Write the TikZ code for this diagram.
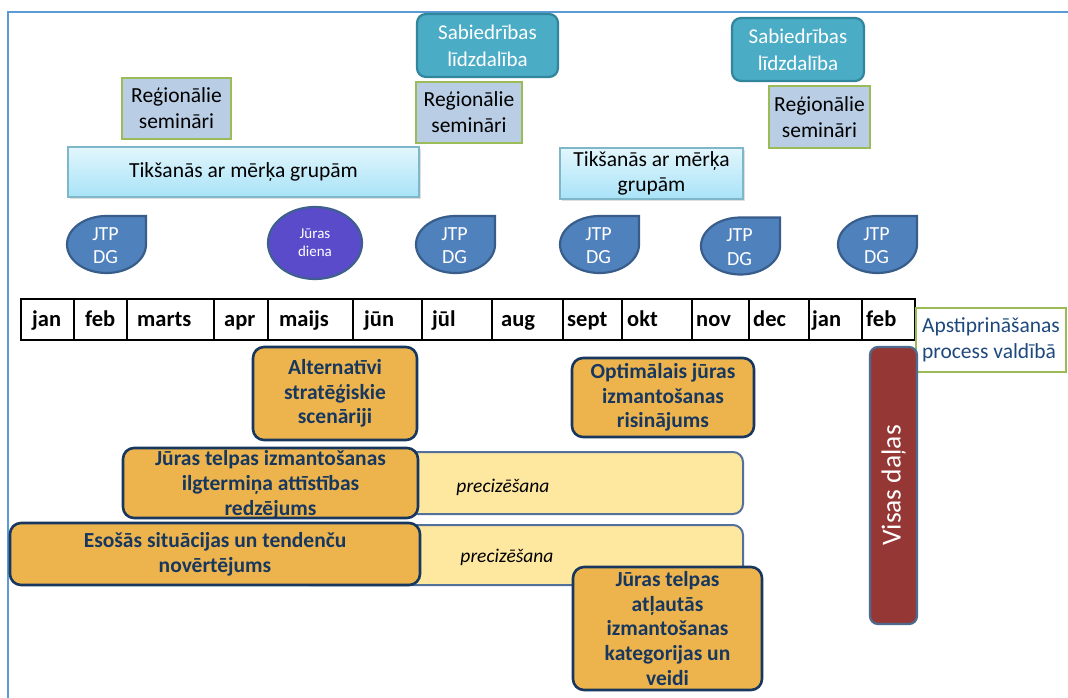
\documentclass[tikz,border=0pt]{standalone}
\usepackage{fontspec}
\setmainfont{Carlito}
\usetikzlibrary{shadows,shapes.geometric}

\definecolor{frameB}{HTML}{5B9BD5}
\definecolor{tealF}{HTML}{4BACC6}
\definecolor{tealD}{HTML}{31859C}
\definecolor{regF}{HTML}{B9CDE5}
\definecolor{greenB}{HTML}{9BBB59}
\definecolor{meetTop}{HTML}{E2F6FD}
\definecolor{meetBot}{HTML}{A8E3F7}
\definecolor{meetD}{HTML}{7FB6C8}
\definecolor{dropF}{HTML}{4F81BD}
\definecolor{dropD}{HTML}{385D8A}
\definecolor{dayF}{HTML}{5A4BCB}
\definecolor{dayD}{HTML}{3F5F8F}
\definecolor{orangeF}{HTML}{EDB44E}
\definecolor{navy}{HTML}{17375E}
\definecolor{yellowF}{HTML}{FEE8A0}
\definecolor{yellowD}{HTML}{52709A}
\definecolor{redF}{HTML}{953735}
\definecolor{redD}{HTML}{4F6A8F}
\definecolor{govT}{HTML}{1F497D}

\newcommand\fsz[2]{\fontsize{#1pt}{#2pt}\selectfont}

\tikzset{
  % a box given by its left, top, right and bottom edges
  corners/.style n args={4}{at={({(#1+#3)/2},{(#2+#4)/2})},
    minimum width={(#3-#1)*1pt}, minimum height={(#4-#2)*1pt}},
  base/.style={inner sep=0pt, outer sep=0pt, align=center},
  teal/.style={base, rounded corners=9pt, fill=tealF, draw=tealD, line width=2.2pt,
    text=white, font=\fsz{21}{27}},
  region/.style={base, fill=regF, draw=greenB, line width=2.4pt, font=\fsz{21.5}{26}},
  meeting/.style={base, top color=meetTop, bottom color=meetBot, draw=meetD, line width=1.2pt,
    drop shadow={opacity=0.25, shadow xshift=2pt, shadow yshift=-2pt}, font=\fsz{21.5}{25}},
  droptext/.style={base, text=white, font=\fsz{20}{23.5}},
  dropshape/.style={fill=dropF, draw=dropD, line width=2.2pt},
  cell/.style={base, draw=black, line width=1.3pt, fill=white},
  month/.style={inner sep=0pt, font=\bfseries\fsz{22.5}{26}},
  orange/.style={base, rounded corners=11pt, fill=orangeF, draw=navy, line width=2.6pt,
    text=navy, font=\bfseries\fsz{21.5}{24.7}},
  refine/.style={base, rounded corners=10pt, fill=yellowF, draw=yellowD, line width=2pt},
  refinetext/.style={inner sep=0pt, font=\itshape\fsz{19.5}{23}},
  pics/drop/.style={code={
    \draw[dropshape] (-39.5,0) arc[start angle=180,end angle=270,x radius=39.5,y radius=28.5]
      -- (39.5,-28.5) -- (39.5,0)
      arc[start angle=0,end angle=180,x radius=39.5,y radius=28.5] -- cycle;}}
}

\begin{document}
\begin{tikzpicture}[x=1pt,y=-1pt]
\useasboundingbox (0,0) rectangle (1068,698);
\fill[white] (0,0) rectangle (1068,698);

% outer frame
\draw[frameB, line width=2pt] (8,698) -- (8,12) -- (1068,12);

% public participation
\node[teal, corners={417}{14}{558}{77}] (pub1) {Sabiedrības\\līdzdalība};
\node[teal, corners={732}{18}{864}{81}] (pub2) {Sabiedrības\\līdzdalība};

% regional seminars
\node[region, corners={122}{78}{231}{139}] (reg1) {Reģionālie\\semināri};
\node[region, corners={416}{82}{522}{143}] (reg2) {Reģionālie\\semināri};
\node[region, corners={769}{86}{870}{148}] (reg3) {Reģionālie\\semināri};

% target group meetings
\node[meeting, corners={68}{147}{419}{197}] (meet1) {Tikšanās ar mērķa grupām};
\node[meeting, corners={560}{148}{743}{199}] (meet2) {Tikšanās ar mērķa\\grupām};

% working group meetings
\foreach \cx/\cy [count=\i] in {106.5/244.5, 455.5/244.5, 599.5/244.5, 740.5/246, 877.5/244.5} {
  \pic at (\cx,\cy) {drop};
  \node[droptext] (jtp\i) at (\cx-1,\cy+1) {JTP\\DG};
}

% sea day
\node[ellipse, base, minimum width=94pt, minimum height=72pt, fill=dayF, draw=dayD,
  line width=2.2pt, text=white, font=\fsz{15}{18}] (day) at (315,243) {Jūras\\diena};

% month scale
\foreach \a/\b/\t/\tx [count=\i] in {21/74/jan/32, 74/127/feb/85, 127/214/marts/137,
    214/268/apr/224, 268/353/maijs/279, 353/422/jūn/364, 422/492/jūl/432,
    492/563/aug/501, 563/622/sept/567, 622/692/okt/627, 692/749/nov/696,
    749/809/dec/753, 809/862/jan/812, 862/915/feb/866} {
  \node[cell, corners={\a}{299}{\b}{340}] (m\i) {};
  \node[month, anchor=base west] (mt\i) at (\tx,326) {\t};
}

% government approval
\node[base, corners={916}{308}{1066}{372}, draw=greenB, line width=2.4pt, fill=white,
  align=left, text=govT, font=\fsz{21.5}{26}] (gov) {Apstiprināšanas\\process valdībā};

% refinement bars
\node[refine, corners={300}{452}{743}{514}] (ref1) {};
\node[refinetext] (ref1t) at (503,487) {precizēšana};
\node[refine, corners={300}{525}{743}{585}] (ref2) {};
\node[refinetext] (ref2t) at (507,557) {precizēšana};

% deliverables
\node[orange, corners={253}{347}{417}{440}] (alt) {Alternatīvi\\stratēģiskie\\scenāriji};
\node[orange, corners={572}{358}{754}{437}] (opt) {Optimālais jūras\\izmantošanas\\risinājums};
\node[orange, corners={123}{448}{418}{518}, text depth=-4pt] (vision) {Jūras telpas izmantošanas\\ilgtermiņa attīstības\\redzējums};
\node[orange, corners={10}{523}{420}{585}] (state) {Esošās situācijas un tendenču\\novērtējums};
\node[orange, corners={573}{567}{762}{690}] (cat) {Jūras telpas\\atļautās\\izmantošanas\\kategorijas un\\veidi};

% all parts
\node[base, rounded corners=8pt, corners={870}{347}{917}{624}, fill=redF, draw=redD,
  line width=2.2pt] (all) {};
\node[base, rotate=90, text=white, font=\fsz{27.5}{30}] (allT) at (all.center) {Visas daļas};
\end{tikzpicture}
\end{document}
